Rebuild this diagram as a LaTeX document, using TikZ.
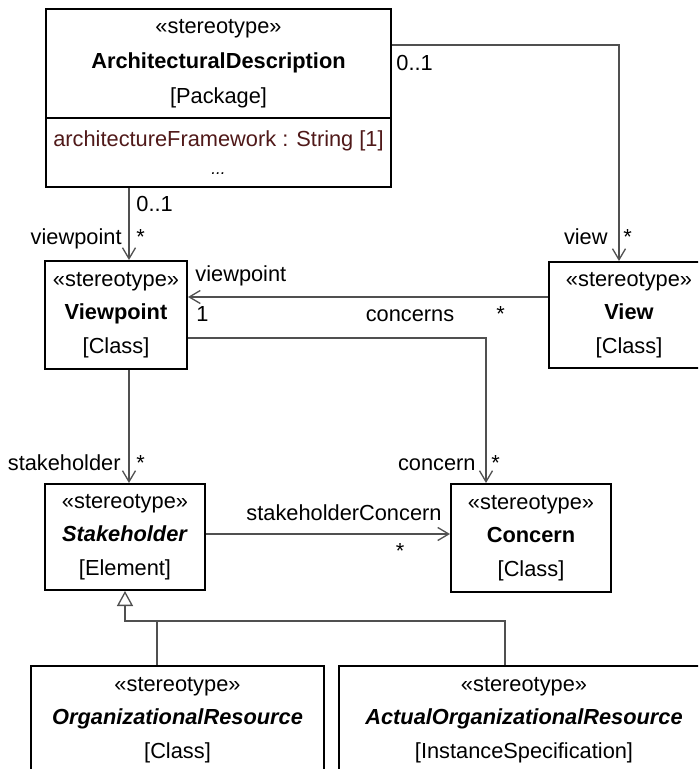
\documentclass[tikz,border=0pt]{standalone}
\usepackage{fontspec}
\setmainfont{Liberation Sans}
\usetikzlibrary{arrows.meta}
\definecolor{lnc}{RGB}{80,80,80}
\definecolor{attrc}{RGB}{80,25,25}
\tikzset{
  umlbox/.style={draw=black, line width=1pt, fill=white, inner sep=0pt, align=center,
    font=\fontsize{10.9}{16.8}\selectfont, anchor=north west},
  assoc/.style={draw=lnc, line width=0.65pt, -{Straight Barb[length=5.5pt,width=6.5pt]}},
  gen/.style={draw=lnc, line width=0.65pt, -{Triangle[open, length=7.5pt, width=8pt, fill=white]}},
  plainline/.style={draw=lnc, line width=0.65pt},
  lbl/.style={font=\fontsize{10.9}{13}\selectfont, inner sep=0pt, text=black}
}
\begin{document}
\begin{tikzpicture}[x=0.5pt, y=-0.5pt]
\useasboundingbox (0,0) rectangle (698,769);
\clip (0,0) rectangle (698,769);
\fill[white] (0,0) rectangle (698,769);

% boxes
\node[umlbox, minimum width=172.5pt, minimum height=54.5pt,
  font=\fontsize{10.9}{17.5}\selectfont] (adtop) at (45,8)
  {«stereotype»\\\textbf{ArchitecturalDescription}\\{[Package]}};
\node[umlbox, minimum width=172.5pt, minimum height=34.5pt,
  font=\fontsize{10.9}{14}\selectfont] (adbot) at (45,117)
  {\textcolor{attrc}{architectureFramework : String [1]}\\{\fontsize{8.5}{10}\selectfont\textit{...}}};
\node[umlbox, minimum width=71pt, minimum height=54pt] (vp) at (44,260)
  {«stereotype»\\\textbf{Viewpoint}\\{[Class]}};
\node[umlbox, minimum width=80pt, minimum height=53pt] (view) at (548,261)
  {«stereotype»\\\textbf{View}\\{[Class]}};
\node[umlbox, minimum width=80pt, minimum height=53pt] (sh) at (44,483)
  {«stereotype»\\\textbf{\textit{Stakeholder}}\\{[Element]}};
\node[umlbox, minimum width=80pt, minimum height=54pt] (con) at (450,483)
  {«stereotype»\\\textbf{Concern}\\{[Class]}};
\node[umlbox, minimum width=146.5pt, minimum height=54pt] (org) at (30,665)
  {«stereotype»\\\textbf{\textit{OrganizationalResource}}\\{[Class]}};
\node[umlbox, minimum width=185pt, minimum height=54pt] (act) at (338,665)
  {«stereotype»\\\textbf{\textit{ActualOrganizationalResource}}\\{[InstanceSpecification]}};

% connectors
\draw[assoc] (adtop.east |- 0,45) -| (view.north -| 619,0);
\draw[assoc] (adbot.south -| 129,0) -- (vp.north -| 129,0);
\draw[assoc] (view.west |- 0,297) -- (vp.east |- 0,297);
\draw[assoc] (vp.east |- 0,338) -| (con.north -| 486,0);
\draw[assoc] (vp.south -| 129,0) -- (sh.north -| 129,0);
\draw[assoc] (sh.east |- 0,534) -- (con.west |- 0,534);
\coordinate (gj) at (125,621);
\draw[plainline] (act.north -| 505,0) |- (gj);
\draw[gen] (org.north -| 157,0) |- (gj) -- (sh.south -| gj);

% labels
\node[lbl, anchor=base west] (m1) at (396,71) {0..1};
\node[lbl, anchor=base east] (r1) at (608,245) {view};
\node[lbl, anchor=base west] (m2) at (623,245) {*};
\node[lbl, anchor=base west] (m3) at (136,212) {0..1};
\node[lbl, anchor=base east] (r2) at (122,245) {viewpoint};
\node[lbl, anchor=base west] (m4) at (136,245) {*};
\node[lbl, anchor=base west] (r3) at (195,282) {viewpoint};
\node[lbl, anchor=base west] (m5) at (196,322) {1};
\node[lbl, anchor=base] (n1) at (410,322) {concerns};
\node[lbl, anchor=base west] (m6) at (496,322) {*};
\node[lbl, anchor=base east] (r4) at (121,470) {stakeholder};
\node[lbl, anchor=base west] (m7) at (136,470) {*};
\node[lbl, anchor=base east] (r5) at (476,470) {concern};
\node[lbl, anchor=base west] (m8) at (491,470) {*};
\node[lbl, anchor=base] (n2) at (344,520) {stakeholderConcern};
\node[lbl, anchor=base] (m9) at (400,558) {*};
\end{tikzpicture}
\end{document}
